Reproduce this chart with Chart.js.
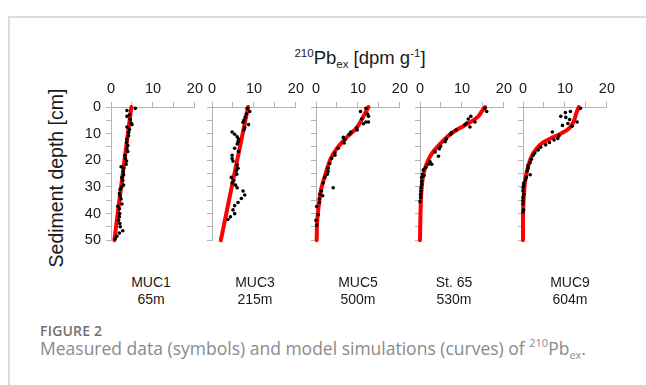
<!DOCTYPE html>
<html>
<head>
<meta charset="utf-8">
<script src="https://cdn.jsdelivr.net/npm/chart.js@4.4.1/dist/chart.umd.min.js"></script>
<style>
  html, body { margin:0; padding:0; background:#fff; }
  body { width:646px; height:385px; position:relative; overflow:hidden; font-family:"Liberation Sans", Arial, sans-serif; }
  #frame { position:absolute; left:8px; top:16px; width:700px; height:420px; border-top:2px solid #dcdcdc; border-left:2px solid #dcdcdc; }
  canvas { position:absolute; }
  #title { position:absolute; left:0; width:720px; top:47px; text-align:center; font-size:18.5px; color:#1a1a1a; line-height:22px; white-space:nowrap; }
  #title .sup { font-size:11.5px; position:relative; top:-7px; }
  #title .sub { font-size:11.5px; position:relative; top:4px; }
  #ytitle { position:absolute; left:56px; top:178px; transform:translate(-50%,-50%) rotate(-90deg); font-size:19.5px; color:#1a1a1a; white-space:nowrap; line-height:22px; }
  .station { position:absolute; width:120px; text-align:center; font-size:14px; line-height:17px; color:#1a1a1a; top:274px; }
  #figlabel { position:absolute; left:40px; top:321px; font-family:"Open Sans", sans-serif; font-weight:600; font-size:14px; color:#707070; line-height:20px; letter-spacing:0.2px; }
  #caption { position:absolute; left:40px; top:336px; font-family:"Open Sans", sans-serif; font-size:17.5px; color:#8a8a8a; line-height:24px; white-space:nowrap; }
  #caption .sup { font-size:11px; position:relative; top:-8px; }
  #caption .sub { font-size:11px; position:relative; top:4px; }
</style>
</head>
<body>
<div id="frame"></div>
<div id="title"><span class="sup">210</span>Pb<span class="sub">ex</span> [dpm g<span class="sup">-1</span>]</div>
<div id="ytitle">Sediment depth [cm]</div>
<div id="figlabel">FIGURE 2</div>
<div id="caption">Measured data (symbols) and model simulations (curves) of <span class="sup">210</span>Pb<span class="sub">ex</span>.</div>

<script>
// ---------- data ----------
const stations = ['MUC1', 'MUC3', 'MUC5', 'St. 65', 'MUC9'];
const waterDepths = ['65m', '215m', '500m', '530m', '604m'];
const xTickLabels = [0, 10, 20];
const yTickLabels = [0, 10, 20, 30, 40, 50];

// MUC1
const muc1Pb    = [5.8,3.8,4.4,3.8,4.6,4.8,5.0,3.8,4.4,4.2,4.2,3.8,3.7,4.0,3.8,4.0,3.3,3.4,3.7,3.6,2.4,3.0,2.9,3.0,2.6,2.8,3.0,2.6,2.2,2.0,2.2,2.4,2.6,1.6,2.0,2.1,2.0,1.8,2.1,2.2,2.8,2.0,1.4,1.0];
const muc1Depth = [0.5,1.3,2.9,3.5,4.7,6.0,6.6,7.5,8.4,9.6,10.8,12.0,13.3,14.5,15.7,16.7,18.1,19.3,20.3,21.5,22.4,23.0,24.2,25.4,26.4,27.6,29.3,29.9,30.9,32.5,33.3,34.5,36.4,37.2,38.2,40.0,41.2,42.5,43.7,44.9,46.4,47.3,48.5,49.5];
const muc1ModelPb    = [4.85, 2.8, 0.8];
const muc1ModelDepth = [0, 25, 50];

// MUC3
const muc3Pb    = [8.4,9.0,8.2,7.9,7.6,7.4,8.7,7.8,7.6,4.8,5.4,6.0,6.3,6.2,6.0,5.4,6.3,4.8,4.8,5.0,6.0,6.2,5.8,5.9,4.6,5.2,4.8,5.6,6.0,7.4,7.8,7.0,6.2,5.4,5.0,5.4,4.4,3.8];
const muc3Depth = [0.5,1.7,2.6,3.8,5.0,5.7,6.6,7.8,8.6,9.4,10.2,11.2,12.0,13.0,13.9,15.5,16.7,18.1,19.3,20.3,21.8,23.0,24.0,25.2,26.4,27.6,28.5,29.3,30.3,31.5,33.0,34.3,35.8,37.0,38.6,40.0,41.2,42.2];
const muc3ModelPb    = [8.6, 5.35, 2.1];
const muc3ModelDepth = [0, 25, 50];

// MUC5
const muc5Pb    = [11.9,10.6,12.3,12.5,10.9,11.9,12.5,11.3,9.7,9.8,8.3,7.9,6.5,6.9,6.7,5.3,4.5,4.5,3.7,3.3,2.9,2.9,2.7,2.1,1.7,4.1,1.3,0.95,1.6,0.8,0.8,0.16,0.55,0.0,0.16];
const muc5Depth = [0.5,1.7,2.6,3.5,4.5,5.6,5.6,6.3,7.8,8.6,9.4,10.2,11.4,12.3,13.5,15.5,17.3,18.1,19.3,21.2,23.0,24.2,25.2,26.4,28.5,30.3,31.5,32.7,33.3,34.5,35.8,37.3,40.4,42.5,44.3];
const muc5ModelPb    = [12.5,10.9,9.7,8.1,6.5,4.9,3.7,2.9,2.1,1.3,0.8,0.3,0.16];
const muc5ModelDepth = [0,4.7,7.8,10.2,12.7,15.7,18.7,21.8,26.0,30.3,35.2,42.5,50];

// St. 65
const st65Pb    = [15.5,15.9,12.1,11.5,13.1,11.1,10.7,11.9,8.6,7.5,7.3,6.3,6.0,4.9,4.6,3.6,4.4,2.4,2.0,2.8,1.4,0.8,0.6,0.95,0.4,0.4,0.4,0.24,0.24,0.16,0.16,0.0];
const st65Depth = [0.5,1.7,3.5,4.5,5.6,6.0,6.6,7.5,8.6,9.6,10.2,12.0,13.0,14.7,15.7,16.9,18.5,20.6,21.5,21.5,22.7,23.6,25.2,25.7,26.4,27.9,29.1,30.3,31.5,32.7,33.9,35.5];
const st65ModelPb    = [15.5,14.7,13.9,12.3,10.3,8.3,6.3,4.4,2.8,1.6,0.8,0.4,0.16,0.0];
const st65ModelDepth = [0,1.7,3.5,5.4,7.2,9.0,11.4,14.5,17.5,21.2,25.4,30.3,37.6,50];

// MUC9
const muc9Pb    = [13.7,10.1,11.3,9.0,10.2,11.1,12.9,10.7,9.4,11.7,7.0,8.6,8.3,7.4,6.3,5.4,4.2,3.6,2.8,2.4,2.0,1.7,1.2,1.2,1.0,1.7,0.8,0.6,0.16,0.16,0.0,0.0,0.16,0.0,0.0,0.0,0.16,0.0];
const muc9Depth = [0.5,2.1,1.7,3.5,3.9,4.7,5.6,6.2,6.9,7.2,9.4,10.8,11.8,12.4,13.3,14.2,15.1,16.1,17.3,18.1,19.6,20.8,22.0,23.0,24.0,25.4,26.4,27.3,28.5,29.4,30.3,31.5,32.7,33.9,35.2,36.4,38.6,39.4];
const muc9ModelPb    = [13.3,12.7,12.1,11.1,9.5,7.1,4.8,3.2,2.0,1.2,0.6,0.24,0.0,0.0];
const muc9ModelDepth = [0,2.3,5.4,7.8,9.6,11.4,13.3,15.7,18.7,22.4,26.6,32.7,40,50];

// ---------- layout ----------
const plotLefts  = [111, 212, 316, 420, 523];
const plotWidth  = 84;
const plotTop    = 107;
const plotHeight = 137;
const labelCenters = [151, 255, 358, 454, 570];

const panelData = [
  [muc1Pb, muc1Depth, muc1ModelPb, muc1ModelDepth],
  [muc3Pb, muc3Depth, muc3ModelPb, muc3ModelDepth],
  [muc5Pb, muc5Depth, muc5ModelPb, muc5ModelDepth],
  [st65Pb, st65Depth, st65ModelPb, st65ModelDepth],
  [muc9Pb, muc9Depth, muc9ModelPb, muc9ModelDepth]
];

const AXIS_W = 30, AXIS_H = 28, PAD_R = 12, PAD_B = 10;
const axisColor = '#b4b4b4';
const tickFont = { family: '"Liberation Sans", Arial, sans-serif', size: 14.5 };

const pts = (xs, ys) => xs.map((v, i) => ({ x: v, y: ys[i] }));

panelData.forEach((pd, i) => {
  const cv = document.createElement('canvas');
  const w = AXIS_W + plotWidth + PAD_R;
  const h = AXIS_H + plotHeight + PAD_B;
  cv.width = w; cv.height = h;
  cv.style.left = (plotLefts[i] - AXIS_W) + 'px';
  cv.style.top = (plotTop - AXIS_H) + 'px';
  cv.style.width = w + 'px'; cv.style.height = h + 'px';
  document.body.appendChild(cv);

  const showY = i === 0;
  new Chart(cv.getContext('2d'), {
    type: 'scatter',
    data: {
      datasets: [
        { data: pts(pd[2], pd[3]), showLine: true, borderColor: '#ff0000', backgroundColor: '#ff0000',
          borderWidth: 4, pointRadius: 0, tension: 0.35, order: 2, clip: false, borderCapStyle: 'round' },
        { data: pts(pd[0], pd[1]), pointRadius: 1.8, pointBackgroundColor: '#000', pointBorderWidth: 0,
          order: 1, clip: false }
      ]
    },
    options: {
      responsive: false, animation: false, devicePixelRatio: 1,
      plugins: { legend: { display: false }, tooltip: { enabled: false } },
      layout: { padding: { top: 0, left: 0, right: PAD_R, bottom: PAD_B } },
      scales: {
        x: {
          type: 'linear', position: 'top', min: 0, max: 20,
          afterBuildTicks: s => { s.ticks = [0,5,10,15,20].map(v => ({ value: v })); },
          ticks: { autoSkip: false, maxRotation: 0, padding: 4, color: '#1a1a1a', font: tickFont,
                   callback: v => xTickLabels.includes(v) ? String(v) : '' },
          grid: { drawOnChartArea: false, drawTicks: true, tickLength: 5, color: axisColor, lineWidth: 1 },
          border: { display: true, color: axisColor, width: 1 },
          afterFit: s => { s.height = AXIS_H; }
        },
        y: {
          type: 'linear', position: 'left', min: 0, max: 50, reverse: true,
          afterBuildTicks: s => { s.ticks = [0,5,10,15,20,25,30,35,40,45,50].map(v => ({ value: v })); },
          ticks: { autoSkip: false, padding: 5, color: '#1a1a1a', font: tickFont,
                   callback: v => (showY && yTickLabels.includes(v)) ? String(v) : '' },
          grid: { drawOnChartArea: false, drawTicks: true, tickLength: 5, color: axisColor, lineWidth: 1 },
          border: { display: true, color: axisColor, width: 1 },
          afterFit: s => { s.width = AXIS_W; }
        }
      }
    }
  });

  const lab = document.createElement('div');
  lab.className = 'station';
  lab.style.left = (labelCenters[i] - 60) + 'px';
  lab.innerHTML = stations[i] + '<br>' + waterDepths[i];
  document.body.appendChild(lab);
});
</script>
</body>
</html>
